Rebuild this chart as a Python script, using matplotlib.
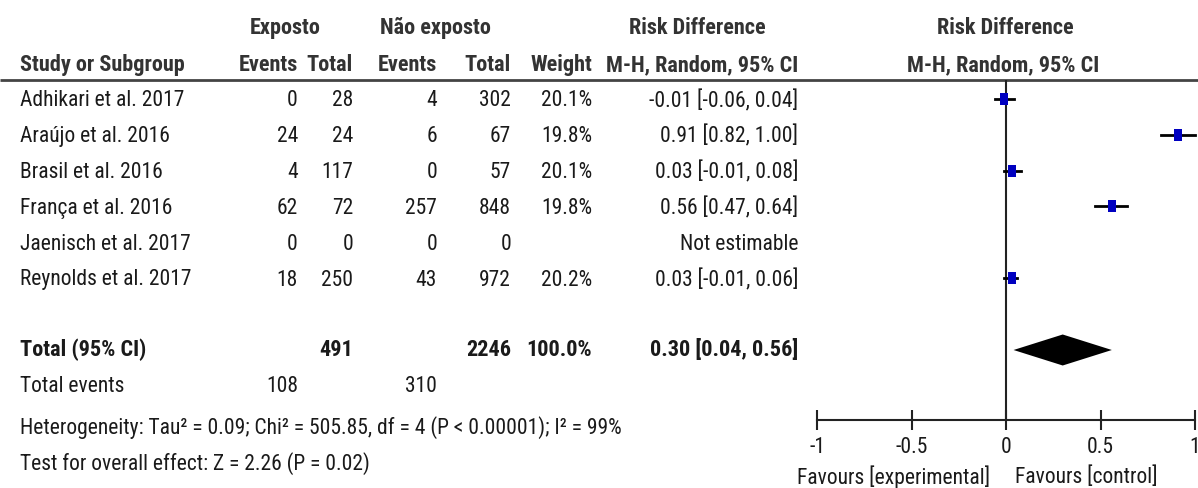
import matplotlib
matplotlib.use('Agg')
import matplotlib.pyplot as plt
from matplotlib import font_manager

# study table
studies = ['Adhikari et al. 2017', 'Araújo et al. 2016', 'Brasil et al. 2016',
           'França et al. 2016', 'Jaenisch et al. 2017', 'Reynolds et al. 2017']
exp_events = [0, 24, 4, 62, 0, 18]
exp_total = [28, 24, 117, 72, 0, 250]
ctl_events = [4, 6, 0, 257, 0, 43]
ctl_total = [302, 67, 57, 848, 0, 972]
weights = ['20.1%', '19.8%', '20.1%', '19.8%', '', '20.2%']
rd = [-0.01, 0.91, 0.03, 0.56, None, 0.03]
rd_lo = [-0.06, 0.82, -0.01, 0.47, None, -0.01]
rd_hi = [0.04, 1.00, 0.08, 0.64, None, 0.06]

# pooled result
total_exp = 491
total_ctl = 2246
total_weight = '100.0%'
pooled = 0.30
pooled_lo = 0.04
pooled_hi = 0.56
events_exp = 108
events_ctl = 310
heterogeneity = 'Heterogeneity: Tau² = 0.09; Chi² = 505.85, df = 4 (P < 0.00001); I² = 99%'
overall = 'Test for overall effect: Z = 2.26 (P = 0.02)'

xticks = [-1, -0.5, 0, 0.5, 1]
xticklabels = ['-1', '-0.5', '0', '0.5', '1']

# a narrow sans if there is one, else plain Liberation Sans
FONT, FS, FSB = 'Liberation Sans', 12.5, 13
for name, size, bsize in [('Roboto Condensed', 15.5, 16), ('Archivo Narrow', 15.5, 16)]:
    try:
        font_manager.findfont(name, fallback_to_default=False)
        FONT, FS, FSB = name, size, bsize
        break
    except ValueError:
        pass
plt.rcParams['font.family'] = [FONT, 'DejaVu Sans']

W, H = 1198, 488
fig = plt.figure(figsize=(W / 100, H / 100), dpi=100)

# full-figure axes in pixel units for the table text
tab = fig.add_axes([0, 0, 1, 1])
tab.set_xlim(0, W)
tab.set_ylim(H, 0)
tab.axis('off')

TXT = '#1a1a1a'
HDR = '#333333'
row_y = [101 + 35.8 * i for i in range(len(studies))]
total_y = 350


def put(x, y, s, ha='right', bold=False, color=TXT):
    tab.text(x, y, s, ha=ha, va='center', fontsize=FSB if bold else FS, color=color,
             fontweight='bold' if bold else 'normal')


# headers
put(285, 28, 'Exposto', ha='center', bold=True, color=HDR)
put(435, 28, 'Não exposto', ha='center', bold=True, color=HDR)
put(697, 28, 'Risk Difference', ha='center', bold=True, color=HDR)
put(1005, 28, 'Risk Difference', ha='center', bold=True, color=HDR)
put(20, 65, 'Study or Subgroup', ha='left', bold=True, color=HDR)
for x, s in [(298, 'Events'), (353, 'Total'), (437, 'Events'), (511, 'Total'),
             (592, 'Weight'), (798, 'M-H, Random, 95% CI')]:
    put(x, 65, s, bold=True, color=HDR)
put(1003, 65, 'M-H, Random, 95% CI', ha='center', bold=True, color=HDR)
tab.plot([0, W], [80, 80], color='#444444', lw=2, solid_capstyle='butt')

# study rows
for i, y in enumerate(row_y):
    put(20, y, studies[i], ha='left')
    put(298, y, str(exp_events[i]))
    put(353, y, str(exp_total[i]))
    put(437, y, str(ctl_events[i]))
    put(511, y, str(ctl_total[i]))
    put(592, y, weights[i])
    if rd[i] is None:
        put(798, y, 'Not estimable')
    else:
        put(798, y, f'{rd[i]:.2f} [{rd_lo[i]:.2f}, {rd_hi[i]:.2f}]')

# totals
put(20, total_y, 'Total (95% CI)', ha='left', bold=True)
put(353, total_y, str(total_exp), bold=True)
put(511, total_y, str(total_ctl), bold=True)
put(592, total_y, total_weight, bold=True)
put(798, total_y, f'{pooled:.2f} [{pooled_lo:.2f}, {pooled_hi:.2f}]', bold=True)
put(20, 387, 'Total events', ha='left')
put(298, 387, str(events_exp))
put(437, 387, str(events_ctl))
put(20, 428, heterogeneity, ha='left')
put(20, 464, overall, ha='left')

# forest panel: x in risk difference, y in the same pixel rows as the table
x0, x1, ytop, ybot = 817, 1195, 80, 420
ax = fig.add_axes([x0 / W, 1 - ybot / H, (x1 - x0) / W, (ybot - ytop) / H])
ax.set_xlim(-1, 1)
ax.set_ylim(ybot, ytop)
ax.patch.set_alpha(0)
for s in ['top', 'left', 'right']:
    ax.spines[s].set_visible(False)
ax.spines['bottom'].set_linewidth(1.5)
ax.spines['bottom'].set_color('#222222')
ax.set_yticks([])
ax.set_xticks(xticks)
ax.set_xticklabels(xticklabels, fontsize=FS, color=TXT)
ax.tick_params(axis='x', direction='inout', length=14, width=1.5, pad=5, color='#222222')
ax.axvline(0, color='#222222', lw=1.5)

box = [(-0.8, -1), (0.8, -1), (0.8, 1), (-0.8, 1), (-0.8, -1)]
for i, y in enumerate(row_y):
    if rd[i] is None:
        continue
    ax.plot([rd_lo[i], rd_hi[i]], [y - 2, y - 2], color='black', lw=2, clip_on=False)
    ax.plot(rd[i], y - 2, marker=box, markersize=8, color='#0000c0',
            markeredgewidth=0, clip_on=False)

ax.fill([pooled_lo, pooled, pooled_hi, pooled], [total_y, total_y - 15.5, total_y, total_y + 15.5],
        color='black', lw=0)

put(990, 477, 'Favours [experimental]')
put(1015, 477, 'Favours [control]', ha='left')

fig.savefig('out.png', dpi=100)
